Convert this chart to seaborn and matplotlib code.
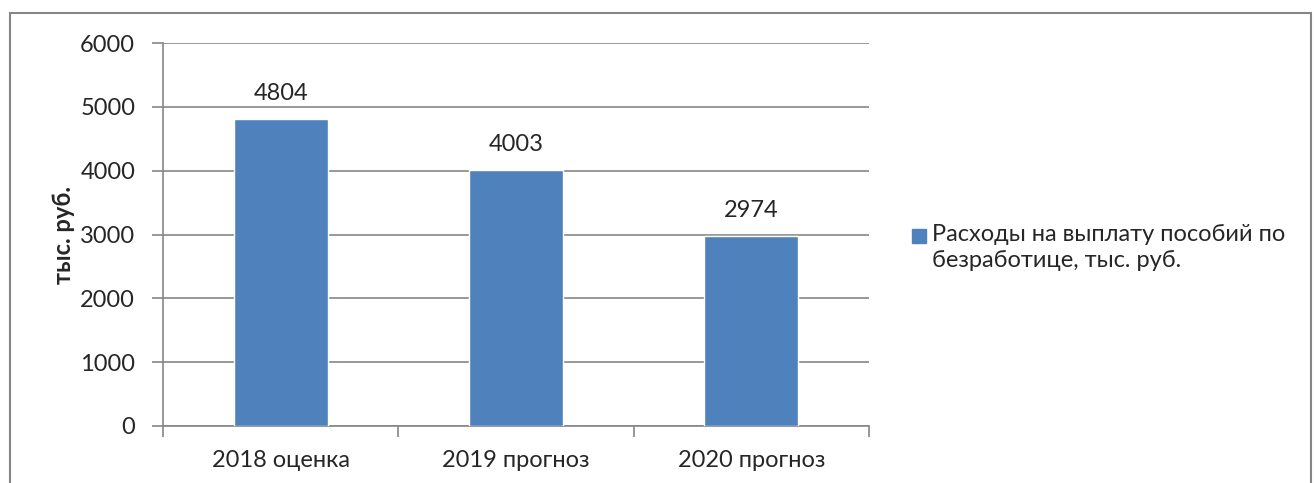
import matplotlib
matplotlib.use('Agg')
import matplotlib.pyplot as plt
from matplotlib.patches import Rectangle
import seaborn as sns

# Chart data
categories = ['2018 оценка', '2019 прогноз', '2020 прогноз']
values = [4804, 4003, 2974]
y_ticks = [0, 1000, 2000, 3000, 4000, 5000, 6000]
series_name = 'Расходы на выплату пособий по\nбезработице, тыс. руб.'
y_label = 'тыс. руб.'

BAR_COLOR = '#4F81BD'
GRID_COLOR = '#868686'

sns.set_style('white')
plt.rcParams['font.family'] = ['Lato', 'Open Sans', 'DejaVu Sans']
FS = 17

fig = plt.figure(figsize=(13.14, 4.83), dpi=100)
ax = fig.add_axes([163 / 1314, 1 - 426 / 483, (869 - 163) / 1314, (426 - 43) / 483])

sns.barplot(x=categories, y=values, color=BAR_COLOR, width=0.4,
            saturation=1, ax=ax, zorder=3)

ax.set_ylim(0, 6000)
ax.set_xlim(-0.5, len(categories) - 0.5)
ax.set_yticks(y_ticks)
ax.set_yticklabels([str(t) for t in y_ticks], fontsize=FS)
ax.yaxis.grid(True, color=GRID_COLOR, linewidth=1.2, zorder=0)
ax.set_axisbelow(True)

# category ticks at boundaries, labels centred on bars
ax.set_xticks([i - 0.5 for i in range(len(categories) + 1)])
ax.set_xticklabels([])
ax.set_xticks(range(len(categories)), minor=True)
ax.set_xticklabels(categories, minor=True, fontsize=FS)
ax.tick_params(axis='x', which='major', direction='out', length=8,
               width=1.2, color=GRID_COLOR, bottom=True)
ax.tick_params(axis='x', which='minor', length=0, pad=17)
ax.tick_params(axis='y', direction='out', length=8, width=1.2,
               color=GRID_COLOR, left=True, pad=12)

for side in ['top', 'right']:
    ax.spines[side].set_visible(False)
for side in ['left', 'bottom']:
    ax.spines[side].set_color(GRID_COLOR)
    ax.spines[side].set_linewidth(1.2)

ax.set_xlabel('')
ax.set_ylabel(y_label, fontsize=FS, fontweight='bold', labelpad=4)

ax.bar_label(ax.containers[0], labels=[str(v) for v in values],
             padding=11, fontsize=FS)

# legend, drawn by hand so the swatch sits on the first line
fig.patches.append(Rectangle((912 / 1314, 1 - 243 / 483), 14 / 1314, 14 / 483,
                             transform=fig.transFigure, color=BAR_COLOR))
fig.text(932 / 1314, 1 - 224 / 483, series_name, fontsize=FS, va='top',
         ha='left', linespacing=1.32)

# outer chart border
fig.patches.append(Rectangle((10 / 1314, -0.05), (1311 - 10) / 1314, 1.05 - 13 / 483,
                             transform=fig.transFigure, fill=False,
                             edgecolor=GRID_COLOR, linewidth=1.5))

fig.savefig('out.png', dpi=100)
